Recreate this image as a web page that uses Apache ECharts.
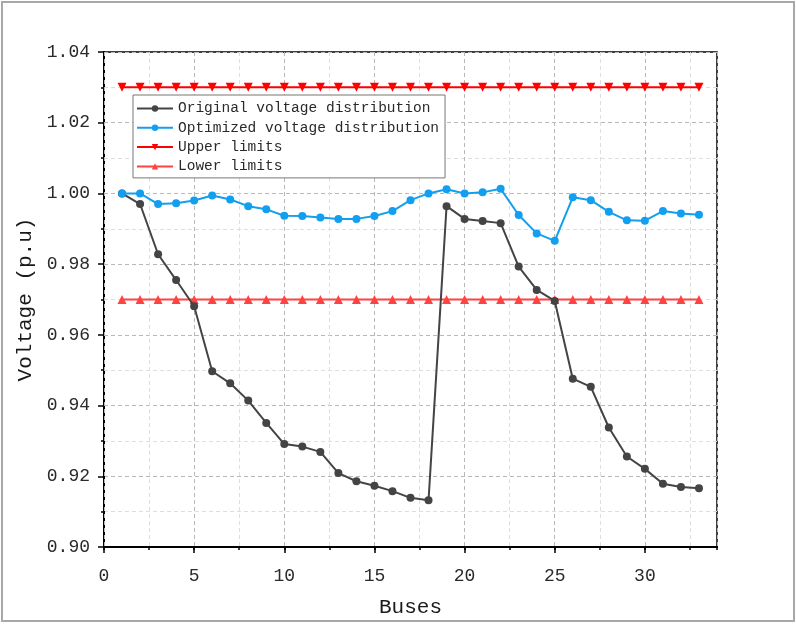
<!DOCTYPE html>
<html>
<head>
<meta charset="utf-8">
<script src="https://cdn.jsdelivr.net/npm/echarts@6/dist/echarts.min.js"></script>
<style>
  html, body { margin: 0; padding: 0; background: #fff; }
  #main { width: 797px; height: 625px; }
</style>
</head>
<body>
<div id="main"></div>
<script>
// bus numbers
const buses = [1, 2, 3, 4, 5, 6, 7, 8, 9, 10, 11, 12, 13, 14, 15, 16, 17,
  18, 19, 20, 21, 22, 23, 24, 25, 26, 27, 28, 29, 30, 31, 32, 33]
const original = [1.0000, 0.9970, 0.9828, 0.9755, 0.9681, 0.9497, 0.9463, 0.9414,
  0.9351, 0.9291, 0.9284, 0.9269, 0.9209, 0.9186, 0.9173, 0.9158, 0.9139,
  0.9132, 0.9964, 0.9928, 0.9922, 0.9916, 0.9793, 0.9727, 0.9696, 0.9476,
  0.9453, 0.9338, 0.9256, 0.9221, 0.9179, 0.9170, 0.9166]
const optimized = [1.0000, 1.0000, 0.9970, 0.9972, 0.9980, 0.9994, 0.9983, 0.9964,
  0.9955, 0.9937, 0.9936, 0.9932, 0.9928, 0.9928, 0.9936, 0.9950, 0.9981,
  1.0000, 1.0012, 1.0000, 1.0003, 1.0013, 0.9939, 0.9887, 0.9866, 0.9989,
  0.9981, 0.9948, 0.9924, 0.9923, 0.9950, 0.9943, 0.9940]
const upperLimit = 1.03
const lowerLimit = 0.97

const pairs = vals => buses.map((b, i) => [b, vals[i]])
const flat = v => buses.map(b => [b, v])

const monoFont = '"Liberation Mono", "DejaVu Sans Mono", monospace'
const majorGrid = { show: true, lineStyle: { color: '#b8b8b8', type: [4, 3], width: 1 } }
const minorGrid = { show: true, lineStyle: { color: '#dedede', type: [4, 3], width: 1 } }

const chart = echarts.init(document.getElementById('main'))
chart.setOption({
  animation: false,
  graphic: [{
    type: 'rect',
    shape: { x: 2, y: 2, width: 792, height: 619 },
    style: { fill: 'none', stroke: '#a8a8a8', lineWidth: 2 },
    z: -10,
  }],
  grid: {
    left: 104,
    right: 80,
    top: 52,
    bottom: 78,
    show: true,
    borderColor: '#000',
    borderWidth: 1.5,
  },
  legend: {
    orient: 'vertical',
    left: 133,
    top: 95,
    backgroundColor: '#fff',
    borderColor: '#777',
    borderWidth: 1,
    borderRadius: 0,
    padding: [6, 6, 4, 3],
    itemWidth: 36,
    itemHeight: 8,
    itemGap: 4.3,
    textStyle: { fontFamily: monoFont, fontSize: 14.5, color: '#2a2a2a', lineHeight: 15 },
    data: ['Original voltage distribution', 'Optimized voltage distribution', 'Upper limits', 'Lower limits'],
  },
  xAxis: [
    {
      type: 'value',
      min: 0,
      max: 34,
      interval: 5,
      name: 'Buses',
      nameLocation: 'middle',
      nameGap: 50,
      nameTextStyle: { fontFamily: monoFont, fontSize: 21, color: '#1a1a1a' },
      axisLine: { show: true, onZero: false, lineStyle: { color: '#000', width: 2 } },
      axisTick: { show: true, inside: false, length: 6, lineStyle: { color: '#000', width: 1.5 } },
      axisLabel: { showMaxLabel: false, margin: 20, fontFamily: monoFont, fontSize: 18, color: '#2a2a2a' },
      splitLine: majorGrid,
      z: 3,
    },
    {
      type: 'value',
      min: 0,
      max: 34,
      interval: 2.5,
      position: 'bottom',
      axisLine: { show: false },
      axisTick: { show: true, inside: false, length: 3, lineStyle: { color: '#000', width: 1.5 } },
      axisLabel: { show: false },
      splitLine: minorGrid,
      z: 1,
    },
  ],
  yAxis: {
    type: 'value',
    min: 0.90,
    max: 1.04,
    interval: 0.02,
    name: 'Voltage (p.u)',
    nameLocation: 'middle',
    nameGap: 60,
    nameTextStyle: { fontFamily: monoFont, fontSize: 21, color: '#1a1a1a' },
    axisLine: { show: true, onZero: false, lineStyle: { color: '#000', width: 2 } },
    axisTick: { show: true, inside: false, length: 6, lineStyle: { color: '#000', width: 1.5 } },
    minorTick: { show: true, splitNumber: 2, length: 3, lineStyle: { color: '#000', width: 1.5 } },
    axisLabel: {
      margin: 14,
      fontFamily: monoFont,
      fontSize: 18,
      color: '#2a2a2a',
      formatter: v => v.toFixed(2),
    },
    splitLine: majorGrid,
    minorSplitLine: minorGrid,
  },
  series: [
    {
      name: 'Original voltage distribution',
      type: 'line',
      data: pairs(original),
      symbol: 'circle',
      symbolSize: 8,
      lineStyle: { color: '#444', width: 2 },
      itemStyle: { color: '#444' },
      z: 4,
    },
    {
      name: 'Optimized voltage distribution',
      type: 'line',
      data: pairs(optimized),
      symbol: 'circle',
      symbolSize: 8,
      lineStyle: { color: '#139ff0', width: 2 },
      itemStyle: { color: '#139ff0' },
      z: 4,
    },
    {
      name: 'Upper limits',
      type: 'line',
      data: flat(upperLimit),
      symbol: 'triangle',
      symbolRotate: 180,
      symbolSize: 9,
      lineStyle: { color: '#ff0000', width: 2 },
      itemStyle: { color: '#ff0000' },
      z: 3,
    },
    {
      name: 'Lower limits',
      type: 'line',
      data: flat(lowerLimit),
      symbol: 'triangle',
      symbolSize: 9,
      lineStyle: { color: '#ff4343', width: 2 },
      itemStyle: { color: '#ff4343' },
      z: 3,
    },
  ],
})
</script>
</body>
</html>
